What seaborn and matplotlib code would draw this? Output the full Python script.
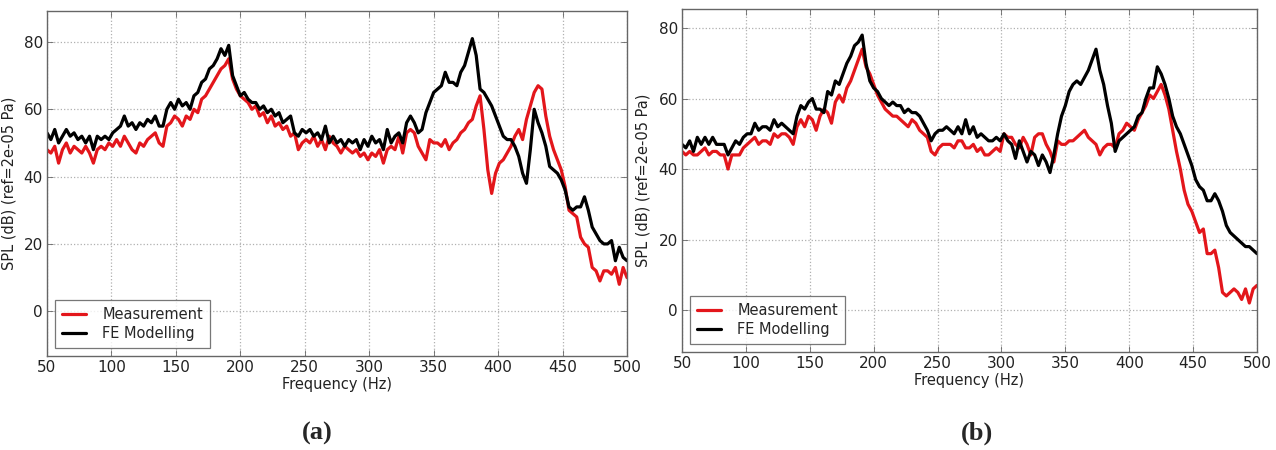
import numpy as np
import pandas as pd
import matplotlib
matplotlib.use("Agg")
import matplotlib.pyplot as plt
import seaborn as sns

# Frequency axis shared by all spectra (Hz)
freq = list(range(50, 501, 3))

# Case (a): sound pressure level, dB re 2e-05 Pa
meas_a = [48, 47, 49, 44, 48, 50, 47, 49, 48, 47,
          49, 47, 44, 48, 49, 48, 50, 49, 51, 49,
          52, 50, 48, 47, 50, 49, 51, 52, 53, 50,
          49, 55, 56, 58, 57, 55, 58, 57, 60, 59,
          63, 64, 66, 68, 70, 72, 73, 75, 69, 66,
          64, 63, 62, 60, 61, 58, 59, 56, 58, 55,
          56, 54, 55, 52, 53, 48, 50, 51, 50, 52,
          49, 51, 48, 52, 50, 49, 47, 49, 48, 47,
          48, 46, 47, 45, 47, 46, 48, 44, 48, 49,
          48, 52, 47, 53, 54, 53, 49, 47, 45, 51,
          50, 50, 49, 51, 48, 50, 51, 53, 54, 56,
          57, 61, 64, 54, 42, 35, 41, 44, 45, 47,
          49, 52, 54, 51, 57, 61, 65, 67, 66, 58,
          52, 48, 45, 42, 37, 30, 29, 28, 22, 20,
          19, 13, 12, 9, 12, 12, 11, 13, 8, 13,
          10]
fe_a = [53, 51, 54, 50, 52, 54, 52, 53, 51, 52,
        50, 52, 48, 52, 51, 52, 51, 53, 54, 55,
        58, 55, 56, 54, 56, 55, 57, 56, 58, 55,
        55, 60, 62, 60, 63, 61, 62, 60, 64, 65,
        68, 69, 72, 73, 75, 78, 76, 79, 70, 67,
        64, 65, 63, 62, 62, 60, 61, 59, 60, 58,
        59, 56, 57, 58, 53, 52, 54, 53, 54, 52,
        53, 51, 55, 50, 52, 50, 51, 49, 51, 50,
        51, 48, 51, 49, 52, 50, 51, 48, 54, 50,
        52, 53, 50, 56, 58, 56, 53, 54, 59, 62,
        65, 66, 67, 71, 68, 68, 67, 71, 73, 77,
        81, 76, 66, 65, 63, 61, 58, 55, 52, 51,
        51, 49, 46, 41, 38, 48, 60, 56, 53, 49,
        43, 42, 41, 39, 36, 31, 30, 31, 31, 34,
        30, 25, 23, 21, 20, 20, 21, 15, 19, 16,
        15]

# Case (b)
meas_b = [45, 44, 45, 44, 44, 45, 46, 44, 45, 45,
          44, 44, 40, 44, 44, 44, 46, 47, 48, 49,
          47, 48, 48, 47, 50, 49, 50, 50, 49, 47,
          52, 54, 52, 55, 54, 51, 55, 57, 56, 53,
          59, 61, 59, 63, 65, 68, 71, 74, 69, 67,
          64, 61, 59, 57, 56, 55, 55, 54, 53, 52,
          54, 53, 51, 50, 49, 45, 44, 46, 47, 47,
          47, 46, 48, 48, 46, 46, 47, 45, 46, 44,
          44, 45, 46, 45, 50, 49, 49, 47, 46, 49,
          47, 44, 49, 50, 50, 47, 45, 42, 48, 47,
          47, 48, 48, 49, 50, 51, 49, 48, 47, 44,
          46, 47, 47, 46, 50, 51, 53, 52, 51, 54,
          56, 58, 61, 60, 62, 64, 61, 57, 51, 45,
          40, 34, 30, 28, 25, 22, 23, 16, 16, 17,
          12, 5, 4, 5, 6, 5, 3, 6, 2, 6,
          7]
fe_b = [47, 46, 48, 45, 49, 47, 49, 47, 49, 47,
        47, 47, 44, 46, 48, 47, 49, 50, 50, 53,
        51, 52, 52, 51, 54, 52, 53, 52, 51, 50,
        55, 58, 57, 59, 60, 57, 57, 56, 62, 61,
        65, 64, 67, 70, 72, 75, 76, 78, 70, 65,
        63, 62, 60, 59, 58, 59, 58, 58, 56, 57,
        56, 56, 55, 53, 51, 48, 50, 51, 51, 52,
        51, 50, 52, 50, 54, 50, 52, 49, 50, 49,
        48, 48, 49, 48, 50, 48, 47, 43, 48, 45,
        42, 45, 44, 41, 44, 42, 39, 44, 50, 55,
        58, 62, 64, 65, 64, 66, 68, 71, 74, 68,
        64, 58, 53, 45, 48, 49, 50, 51, 52, 55,
        56, 60, 63, 63, 69, 67, 64, 60, 55, 52,
        50, 47, 44, 41, 37, 35, 34, 31, 31, 33,
        31, 28, 24, 22, 21, 20, 19, 18, 18, 17,
        16]

series_names = ["Measurement", "FE Modelling"]
panel_tags = ["(a)", "(b)"]
y_ticks = [0, 20, 40, 60, 80]
x_ticks = [50, 100, 150, 200, 250, 300, 350, 400, 450, 500]

sns.set_style("white")
plt.rcParams["font.family"] = ["DejaVu Sans"]

fig = plt.figure(figsize=(12.76, 4.5), dpi=100)
ax_a = fig.add_axes([47 / 1276, 1 - 356 / 450, 580 / 1276, 345 / 450])
ax_b = fig.add_axes([682 / 1276, 1 - 352 / 450, 575 / 1276, 343 / 450])

palette = {"Measurement": "#e3161b", "FE Modelling": "#000000"}

panels = [(ax_a, meas_a, fe_a, (-13.3, 89.2), 0.249, -0.052),
          (ax_b, meas_b, fe_b, (-11.9, 85.4), 0.766, -0.054)]

for (ax, meas, fe, ylim, tag_x, ylab_x), tag in zip(panels, panel_tags):
    df = pd.DataFrame({
        "Frequency": freq * 2,
        "SPL": meas + fe,
        "Series": [series_names[0]] * len(freq) + [series_names[1]] * len(freq),
    })
    sns.lineplot(data=df, x="Frequency", y="SPL", hue="Series",
                 palette=palette, hue_order=series_names,
                 linewidth=2.3, ax=ax, legend=True)
    ax.set_xlim(50, 500)
    ax.set_ylim(*ylim)
    ax.set_xticks(x_ticks)
    ax.set_yticks(y_ticks)
    ax.grid(True, linestyle=":", color="#b0b0b0", linewidth=0.9)
    ax.tick_params(axis="both", direction="in", length=4, width=0.6,
                   color="#666666", labelsize=11, labelcolor="#222222",
                   bottom=True, left=True, top=True, right=True, pad=3)
    for sp in ax.spines.values():
        sp.set_color("#666666")
        sp.set_linewidth(1.0)
    ax.set_xlabel("Frequency (Hz)", fontsize=10.5, color="#222222", labelpad=1)
    ax.set_ylabel("SPL (dB) (ref=2e-05 Pa)", fontsize=10.5, color="#222222")
    ax.yaxis.set_label_coords(ylab_x, 0.5)
    leg = ax.legend(loc="lower left", fontsize=10.5, frameon=True,
                    fancybox=False, borderpad=0.45, handlelength=1.7,
                    handletextpad=1.1, labelspacing=0.3,
                    borderaxespad=0.55)
    leg.get_frame().set_edgecolor("#555555")
    leg.get_frame().set_linewidth(0.9)
    fig.text(tag_x, 1 - 433 / 450, tag, ha="center", va="center",
             fontsize=19, fontweight="bold", family="Liberation Serif")

fig.savefig("out.png", dpi=100, facecolor="white")
